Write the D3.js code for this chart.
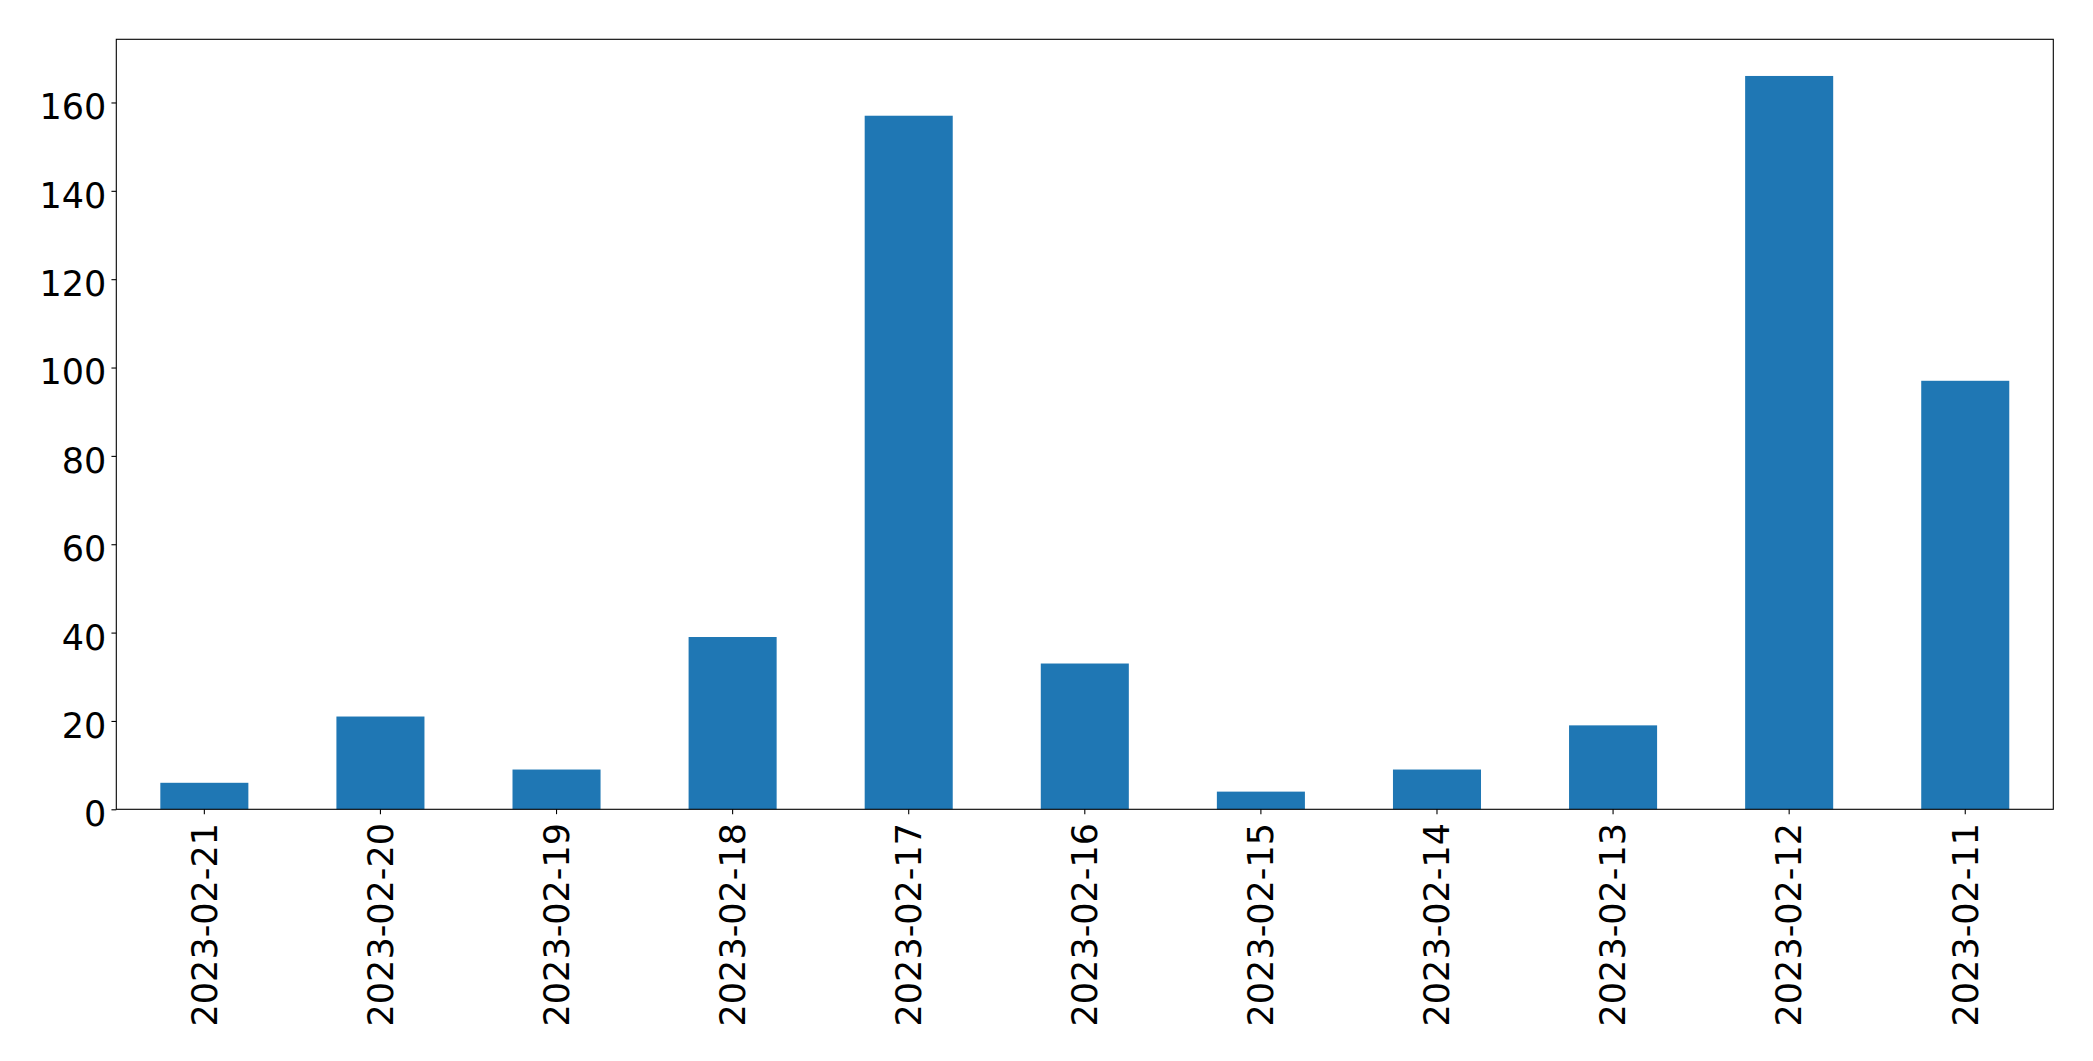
<!DOCTYPE html>
<html>
<head>
<meta charset="utf-8">
<script src="https://cdn.jsdelivr.net/npm/d3@7"></script>
<style>
  html, body { margin: 0; padding: 0; background: #ffffff; }
  svg { display: block; }
  text { font-family: "DejaVu Sans", sans-serif; fill: #000; }
</style>
</head>
<body>
<script>
const categories = ["2023-02-21","2023-02-20","2023-02-19","2023-02-18","2023-02-17","2023-02-16","2023-02-15","2023-02-14","2023-02-13","2023-02-12","2023-02-11"];
const values = [6, 21, 9, 39, 157, 33, 4, 9, 19, 166, 97];
const yTicks = [0, 20, 40, 60, 80, 100, 120, 140, 160];

(function () {
const W = 2093, H = 1061;
const mLeft = 116.3, mRight = 2053.3, mTop = 39.3, mBottom = 809.3;
const fontSize = 35;
const tickLen = 4.86, pad = 4.86;

const svg = d3.select("body").append("svg").attr("width", W).attr("height", H);

const x = d3.scaleBand().domain(categories).range([mLeft, mRight]).paddingInner(0.5).paddingOuter(0.25);
const yMax = d3.max(values) * 1.05;
const y = d3.scaleLinear().domain([0, yMax]).range([mBottom, mTop]);

// bars
svg.append("g").selectAll("rect").data(values).join("rect")
  .attr("x", (d, i) => x(categories[i]))
  .attr("width", x.bandwidth())
  .attr("y", d => y(d))
  .attr("height", d => y(0) - y(d))
  .attr("fill", "#1f77b4");

// y axis
const yAxis = d3.axisLeft(y).tickValues(yTicks).tickSize(tickLen).tickPadding(pad).tickFormat(d3.format("d"));
const gy = svg.append("g").attr("transform", `translate(${mLeft},0)`).call(yAxis);
gy.select(".domain").remove();
gy.selectAll(".tick line").attr("stroke", "#000").attr("stroke-width", 1.1);
gy.selectAll(".tick text").attr("font-size", fontSize).attr("font-family", "DejaVu Sans")
  .attr("dy", "0.47em").attr("x", -(tickLen + pad + 0.2));

// x axis
const xAxis = d3.axisBottom(x).tickSize(tickLen).tickPadding(pad);
const gx = svg.append("g").attr("transform", `translate(0,${mBottom})`).call(xAxis);
gx.select(".domain").remove();
gx.selectAll(".tick line").attr("stroke", "#000").attr("stroke-width", 1.1);
gx.selectAll(".tick text")
  .attr("font-size", fontSize).attr("font-family", "DejaVu Sans")
  .attr("text-anchor", "end")
  .attr("transform", `translate(0,${tickLen + pad + 4}) rotate(-90)`)
  .attr("x", 0).attr("y", 0).attr("dy", "0.35em");

// frame
svg.append("rect")
  .attr("x", mLeft).attr("y", mTop)
  .attr("width", mRight - mLeft).attr("height", mBottom - mTop)
  .attr("fill", "none").attr("stroke", "#000").attr("stroke-width", 1.1);
})();
</script>
</body>
</html>
